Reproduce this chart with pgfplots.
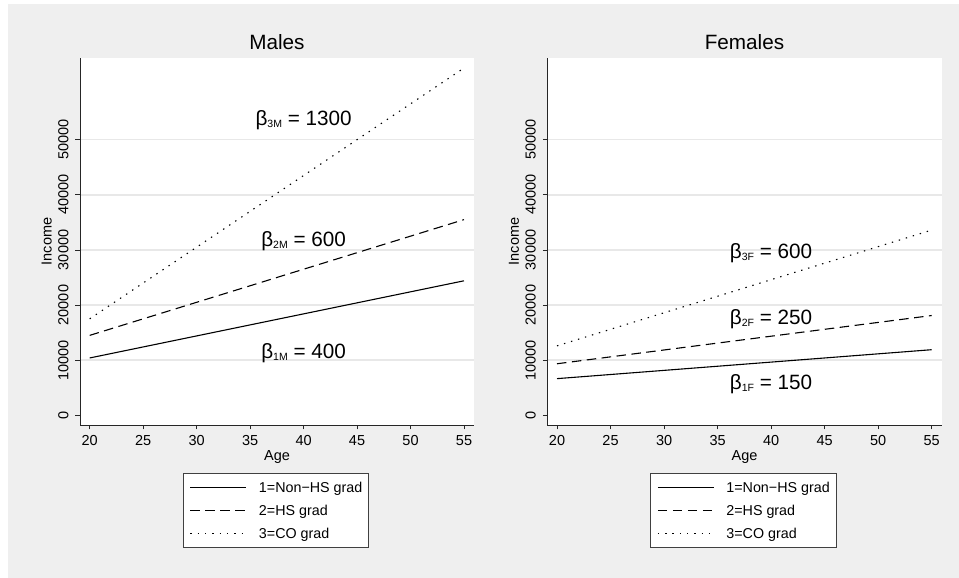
\documentclass[border=0pt]{standalone}
\usepackage{fontspec}
\setmainfont{Liberation Sans}
\usepackage{pgfplots}
\pgfplotsset{compat=1.18}
\definecolor{bggray}{RGB}{239,239,239}
\definecolor{gridgray}{RGB}{232,232,232}
\newcommand{\fs}[1]{\fontsize{#1}{#1}\selectfont}
\pgfplotsset{
  statastyle/.style={
    scale only axis, width=394bp, height=367bp,
    xmin=19.093, xmax=55.935, ymin=-1760, ymax=64820,
    axis x line*=bottom, axis y line*=left,
    axis line style={-, black!85, line width=0.8bp},
    axis background/.style={fill=white},
    tick align=outside, major tick length=4.5bp,
    tick style={black!85, line width=0.8bp},
    xtick={20,25,...,55}, ytick={10000,20000,30000,40000,50000},
    extra y ticks={0}, extra y tick style={grid=none},
    ymajorgrids, grid style={gridgray, line width=1.5bp},
    scaled ticks=false,
    /pgf/number format/1000 sep={},
    /pgf/number format/assume math mode=true,
    tick label style={font=\fs{14.5bp}, inner sep=0bp},
    xticklabel style={anchor=base, yshift=-15.5bp},
    yticklabel style={xshift=-7.2bp, rotate=90, anchor=base},
    title style={at={(0.5,1)}, anchor=base, yshift=3bp, font=\fs{20.7bp}, inner sep=0bp},
    xlabel style={at={(axis description cs:0.5,-0.0973)}, anchor=base, font=\fs{14.5bp}, inner sep=0bp},
    ylabel style={at={(axis description cs:-0.0718,0.5)}, anchor=base, font=\fs{14.5bp}, inner sep=0bp},
    xlabel={Age}, ylabel={Income},
    legend style={at={(axis description cs:0.2614,-0.1316)}, anchor=north west,
      draw=black!75, line width=0.8bp, fill=white,
      inner xsep=6.5bp, inner ysep=7bp, row sep=9bp, font=\fs{14.3bp},
      nodes={inner sep=0bp, text height=12bp, text depth=2bp}},
    legend cell align=left,
    legend image code/.code={\draw[##1] (0bp,0.3bp) -- (56bp,0.3bp); \path (68bp,0bp);},
  },
  solidl/.style={black, line width=1.1bp},
  dashl/.style={black, line width=1.1bp, dash pattern=on 9.5bp off 5.5bp},
  dotl/.style={black, line width=1.1bp, dash pattern=on 1.4bp off 5.9bp},
}
\begin{document}
\begin{tikzpicture}
\fill[white] (0,0) rectangle (959bp,578bp);
\fill[bggray] (8bp,0) rectangle (959bp,574bp);
\begin{axis}[statastyle, at={(80bp,153bp)}, anchor=south west, title={Males}]
\addplot[solidl] coordinates {(20,10400) (55,24400)};
\addlegendentry{1=Non\textminus HS grad}
\addplot[dashl] coordinates {(20,14500) (55,35500)};
\addlegendentry{2=HS grad}
\addplot[dotl] coordinates {(20,17500) (55,63000)};
\addlegendentry{3=CO grad}
\node[anchor=base, font=\fs{20.7bp}, inner sep=0bp] at (axis cs:40,52485) {β\raisebox{-2bp}{\fs{10.5bp}3M} = 1300};
\node[anchor=base, font=\fs{20.7bp}, inner sep=0bp] at (axis cs:40,30590) {β\raisebox{-2bp}{\fs{10.5bp}2M} = 600};
\node[anchor=base, font=\fs{20.7bp}, inner sep=0bp] at (axis cs:40,10340) {β\raisebox{-2bp}{\fs{10.5bp}1M} = 400};
\end{axis}
\begin{axis}[statastyle, width=394.4bp, at={(547.3bp,153bp)}, anchor=south west, title={Females}]
\addplot[solidl] coordinates {(20,6650) (55,11900)};
\addlegendentry{1=Non\textminus HS grad}
\addplot[dashl] coordinates {(20,9350) (55,18100)};
\addlegendentry{2=HS grad}
\addplot[dotl] coordinates {(20,12600) (55,33600)};
\addlegendentry{3=CO grad}
\node[anchor=base, font=\fs{20.7bp}, inner sep=0bp] at (axis cs:40,28480) {β\raisebox{-2bp}{\fs{10.5bp}3F} = 600};
\node[anchor=base, font=\fs{20.7bp}, inner sep=0bp] at (axis cs:40,16510) {β\raisebox{-2bp}{\fs{10.5bp}2F} = 250};
\node[anchor=base, font=\fs{20.7bp}, inner sep=0bp] at (axis cs:40,4590) {β\raisebox{-2bp}{\fs{10.5bp}1F} = 150};
\end{axis}
\pgfresetboundingbox
\path[use as bounding box] (0,0) rectangle (959bp,578bp);
\end{tikzpicture}
\end{document}
